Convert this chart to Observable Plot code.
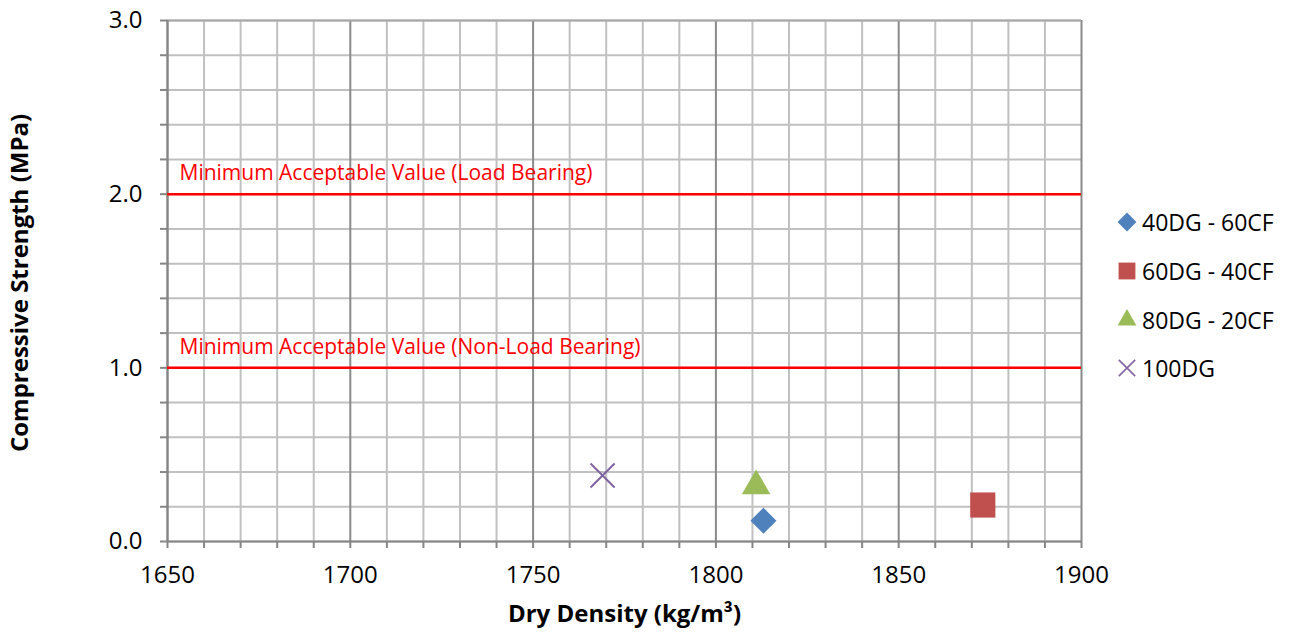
<!DOCTYPE html>
<html><head><meta charset="utf-8">
<script src="https://cdn.jsdelivr.net/npm/d3@7"></script>
<script src="https://cdn.jsdelivr.net/npm/@observablehq/plot@0.6"></script>
<style>
body{margin:0;background:#fff;}
#wrap{position:relative;width:1289px;height:634px;font-family:"Open Sans",sans-serif;}
.row{position:absolute;left:1116px;height:30px;display:flex;align-items:center;white-space:nowrap;font-size:23px;color:#000;}
.row svg{width:22px;height:22px;margin-right:4px;overflow:visible;}
</style></head><body><div id="wrap"></div><script>
// ---- data ----
const series = ["40DG - 60CF", "60DG - 40CF", "80DG - 20CF", "100DG"];
const dryDensity = [1813, 1873, 1811, 1769];
const strength = [0.12, 0.21, 0.32, 0.38];
const thresholds = [2.0, 1.0];
const thresholdLabels = ["Minimum Acceptable Value (Load Bearing)", "Minimum Acceptable Value (Non-Load Bearing)"];
const xTickLabels = [1650, 1700, 1750, 1800, 1850, 1900];
const yTickLabels = [0.0, 1.0, 2.0, 3.0];
const xTitle = "Dry Density (kg/m³)";
const yTitle = "Compressive Strength (MPa)";

// ---- style ----
const colors = ["#4f81bd", "#c0504d", "#9bbb59", "#8064a2"];
const symbols = ["diamond2", "square", "triangle", "times"];
const radius = [11.7, 14.2, 10.6, 11];
const legendR = [8.5, 9.5, 7, 7.5];

const points = series.map((s, i) => ({series: s, x: dryDensity[i], y: strength[i], i}));
const thr = thresholds.map((v, i) => ({value: v, label: thresholdLabels[i]}));

const xMinor = d3.range(xTickLabels[0], xTickLabels[xTickLabels.length - 1] + 1, 10);
const yMinor = d3.range(0, 16).map(k => k / 5);

const dotMarks = points.map(p => Plot.dot([p], {
  x: "x", y: "y", symbol: () => symbols[p.i], r: radius[p.i],
  fill: p.i === 3 ? "none" : colors[p.i],
  stroke: p.i === 3 ? colors[p.i] : "none",
  strokeWidth: p.i === 3 ? 2 : 0
}));

const chart = Plot.plot({
  width: 1289, height: 634,
  marginLeft: 167, marginRight: 208, marginTop: 20, marginBottom: 93,
  style: {fontFamily: "'Open Sans', sans-serif", fontSize: "24px", color: "#000", background: "#fff"},
  x: {domain: [1650, 1900]},
  y: {domain: [0, 3]},
  marks: [
    Plot.ruleX(xMinor.filter(d => d % 50 !== 0), {stroke: "#c0c0c0", strokeWidth: 2}),
    Plot.ruleY(yMinor, {stroke: "#c0c0c0", strokeWidth: 2}),
    Plot.ruleX(xTickLabels, {stroke: "#8a8a8a", strokeWidth: 2}),
    Plot.ruleY([3], {stroke: "#a8a8a8", strokeWidth: 2}),
    Plot.axisX({ticks: xMinor, tickFormat: d => xTickLabels.includes(d) ? String(d) : "",
      tickSize: 7, tickPadding: 17, stroke: "#868686", strokeWidth: 2, fill: "#000", label: null}),
    Plot.axisY({ticks: yMinor, tickFormat: d => yTickLabels.includes(d) ? d.toFixed(1) : "",
      tickSize: 7, tickPadding: 18, stroke: "#868686", strokeWidth: 2, fill: "#000", label: null}),
    Plot.ruleY([0], {stroke: "#868686", strokeWidth: 2}),
    Plot.ruleX([1650], {stroke: "#868686", strokeWidth: 2}),
    Plot.ruleY(thr, {y: "value", stroke: "#ff0000", strokeWidth: 2.5}),
    Plot.text(thr, {y: "value", text: "label", frameAnchor: "left", textAnchor: "start",
      dx: 12, dy: -21, fill: "#ff0000", fontSize: 21}),
    ...dotMarks,
    Plot.text([xTitle], {text: d => d, frameAnchor: "bottom", textAnchor: "middle", dy: 80, fontWeight: "bold", fontSize: 24}),
    Plot.text([yTitle], {text: d => d, frameAnchor: "left", textAnchor: "middle", dx: -147, dy: 2, rotate: -90, fontWeight: "bold", fontSize: 24})
  ]
});

const wrap = document.getElementById("wrap");
wrap.appendChild(chart);

const legendTop = [222, 271, 320, 368];
series.forEach((s, i) => {
  const row = document.createElement("div");
  row.className = "row";
  row.style.top = (legendTop[i] - 15) + "px";
  const size = Math.PI * legendR[i] * legendR[i];
  const symMap = {diamond2: d3.symbolDiamond2, square: d3.symbolSquare, triangle: d3.symbolTriangle, times: d3.symbolTimes};
  const path = d3.symbol(symMap[symbols[i]], size)();
  const filled = i !== 3;
  row.innerHTML = `<svg viewBox="-11 -11 22 22"><path d="${path}" fill="${filled ? colors[i] : "none"}" stroke="${filled ? "none" : colors[i]}" stroke-width="1.6"/></svg><span>${s}</span>`;
  wrap.appendChild(row);
});
</script></body></html>
